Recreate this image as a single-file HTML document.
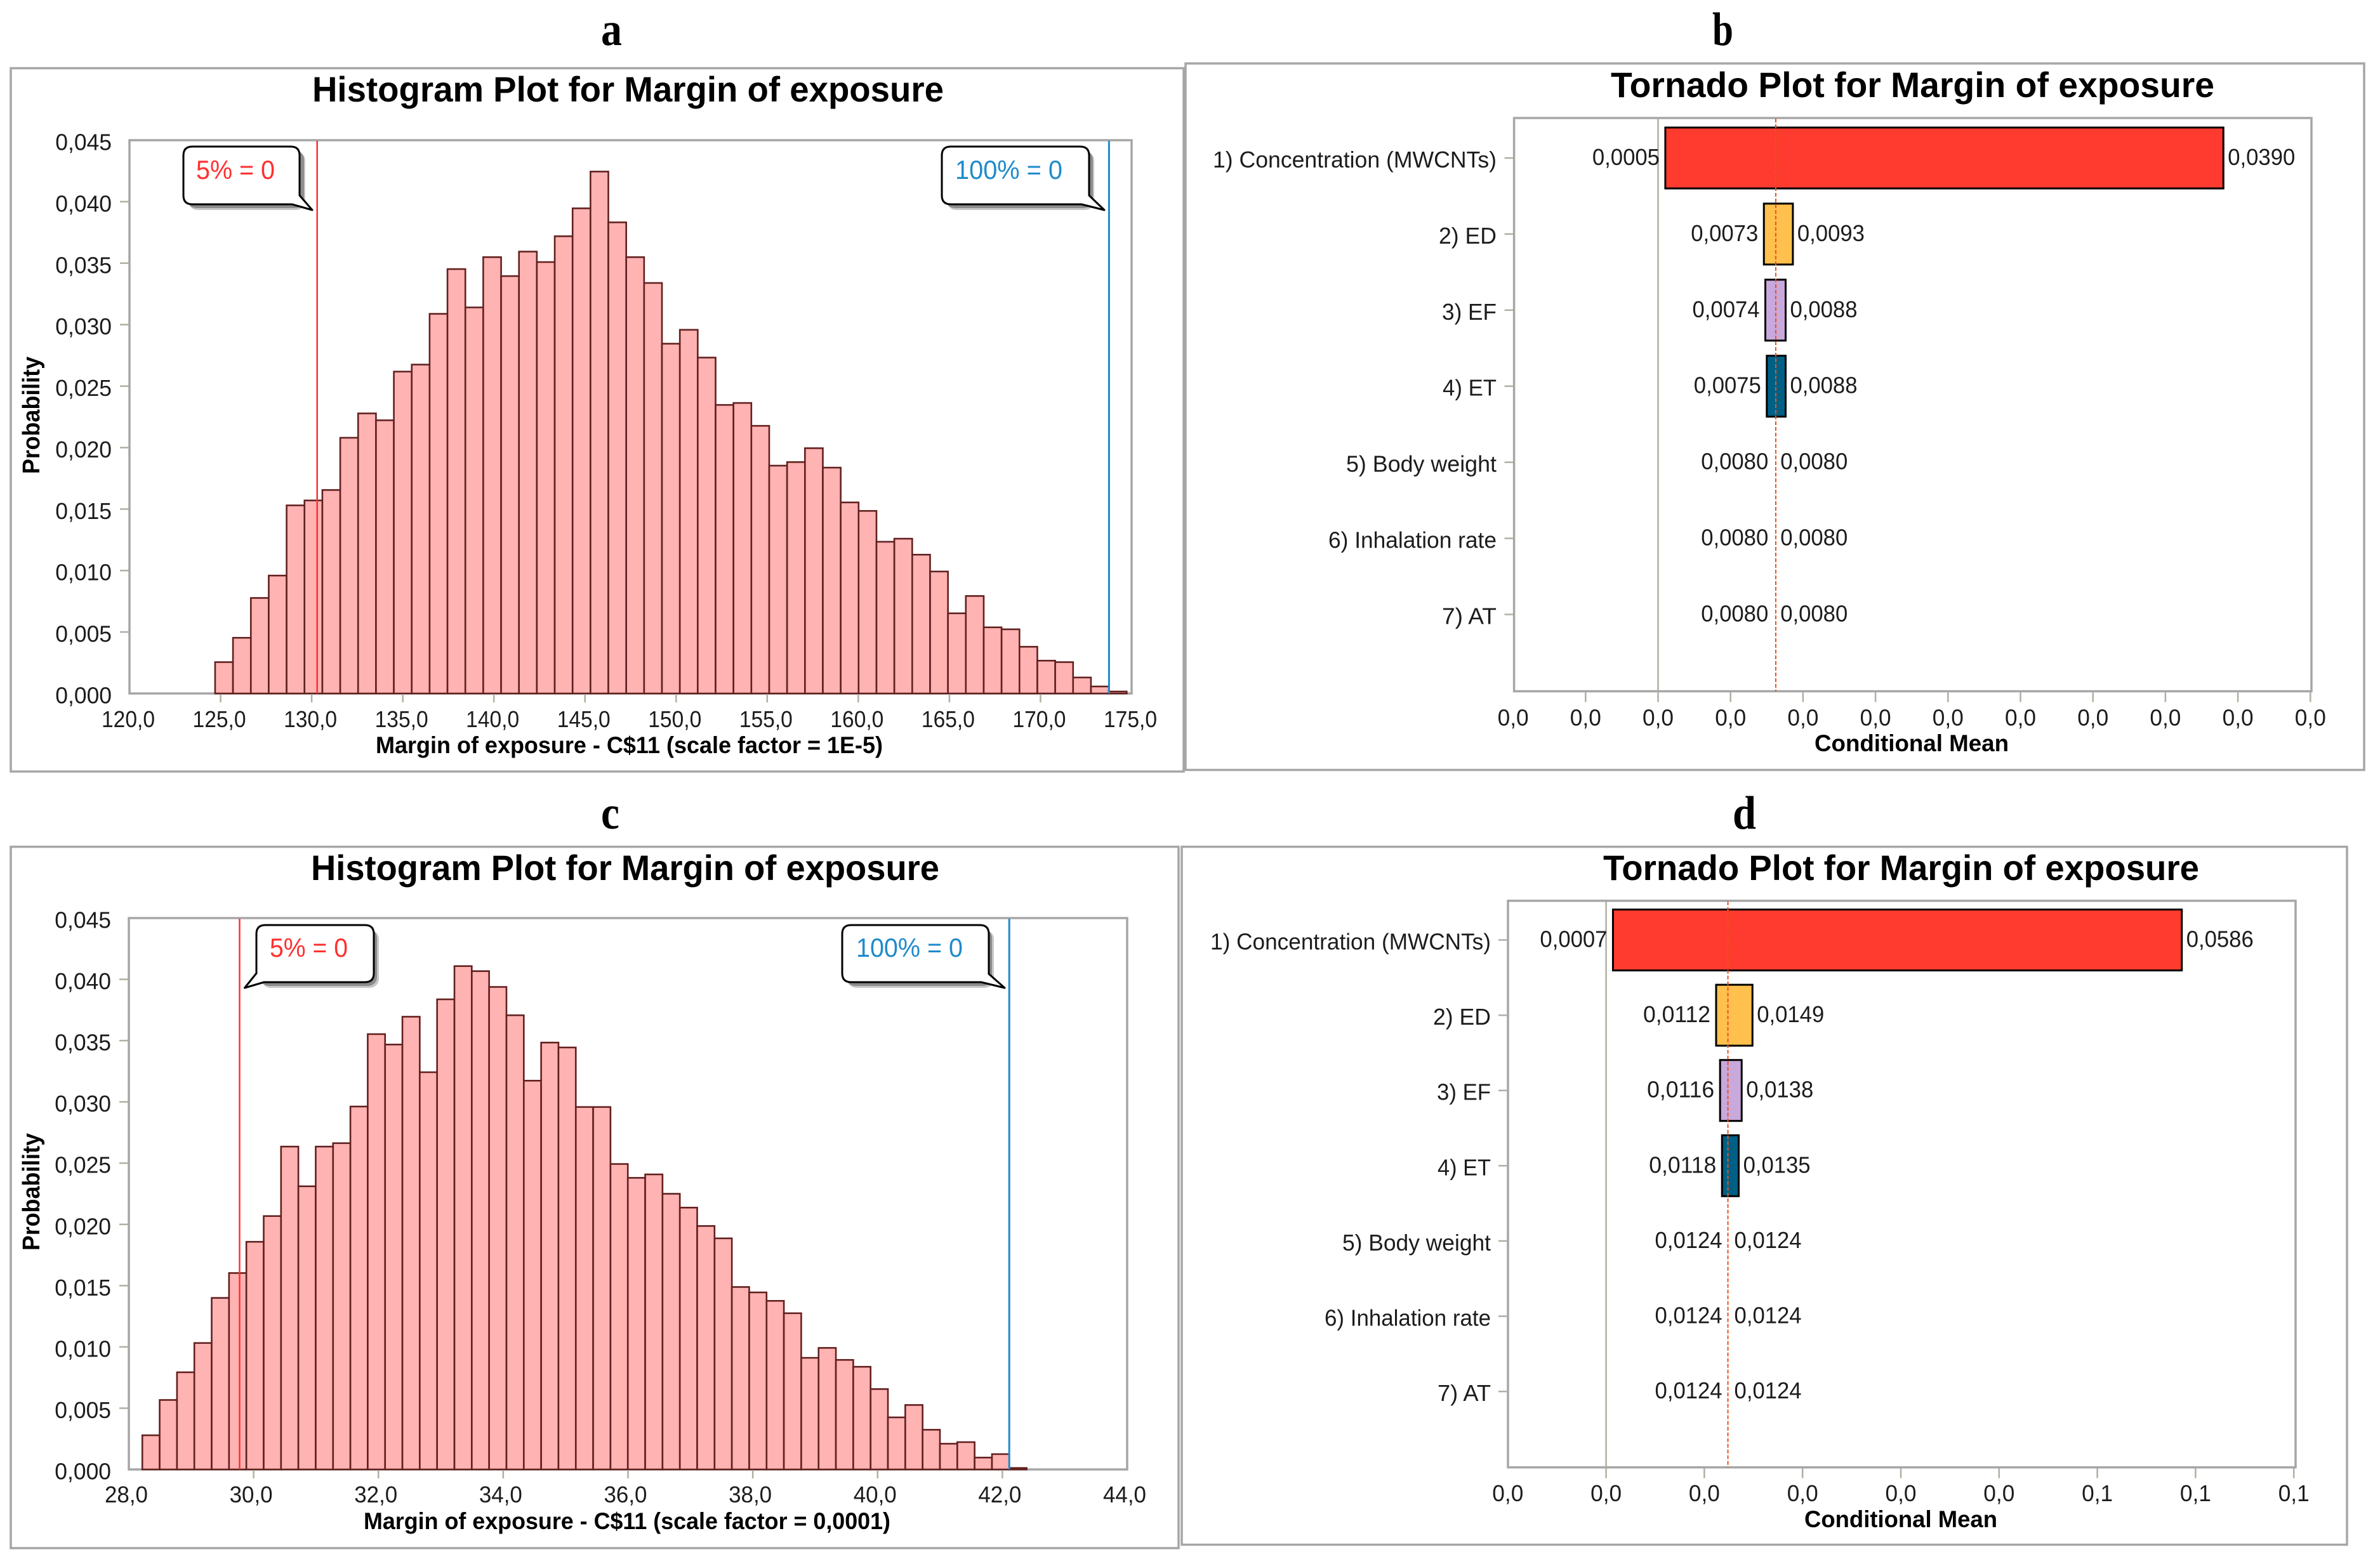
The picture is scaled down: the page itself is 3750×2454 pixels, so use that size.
<!DOCTYPE html>
<html lang="en">
<head>
<meta charset="utf-8">
<title>Histogram and tornado plots for margin of exposure</title>
<style>
html,body{margin:0;padding:0;background:#fff;}
svg{display:block;}
text{font-family:"Liberation Sans",sans-serif;fill:#1c1c1c;}
.letter{font-family:"Liberation Serif",serif;font-weight:700;font-size:74px;fill:#000;}
.title{font-weight:700;font-size:56px;fill:#000;}
.axis-title{font-weight:700;font-size:37px;fill:#000;}
.frame{fill:#fff;stroke:#a6a6a6;stroke-width:3.5;}
.plot{fill:#fff;stroke:#a6a6a6;stroke-width:3.5;}
.callout-shadow{fill:#8c8c8c;}
.callout-shadow-soft{fill:#c8c8c8;}
.callout-body{fill:#fff;stroke:#000;stroke-width:3;stroke-linejoin:round;}
.callout-text{font-size:42px;}
</style>
</head>
<body>
<svg id="figure" xmlns="http://www.w3.org/2000/svg" width="3750" height="2454" viewBox="0 0 3750 2454">
  <rect x="0" y="0" width="3750" height="2454" fill="#fff"/>

  <text class="letter" x="947" y="71" textLength="33" lengthAdjust="spacingAndGlyphs">a</text>
  <text class="letter" x="2698" y="71" textLength="33" lengthAdjust="spacingAndGlyphs">b</text>
  <text class="letter" x="947" y="1306" textLength="29" lengthAdjust="spacingAndGlyphs">c</text>
  <text class="letter" x="2730" y="1306" textLength="37" lengthAdjust="spacingAndGlyphs">d</text>

  <g id="panel-a">
    <rect class="frame" x="17" y="107.5" width="1848" height="1108.5"/>
    <text class="title" x="492" y="160" textLength="995" lengthAdjust="spacingAndGlyphs">Histogram Plot for Margin of exposure</text>
    <rect class="plot" x="204" y="221" width="1579" height="872"/>
    <text class="axis-title" x="592" y="1187" textLength="799" lengthAdjust="spacingAndGlyphs">Margin of exposure - C$11 (scale factor = 1E-5)</text>
    <text class="axis-title" transform="translate(62,747) rotate(-90)" x="0" y="0" style="font-size:38px" textLength="185" lengthAdjust="spacingAndGlyphs">Probability</text>
    <g id="panel-a-marks"></g>
    <g>
      <rect class="callout-shadow-soft" x="297" y="239" width="184" height="92" rx="14"/>
      <rect class="callout-shadow" x="295" y="237" width="184" height="91" rx="14"/>
      <path class="callout-body" d="M303 231H458Q472 231 472 245V308L492 331L460 322H303Q289 322 289 308V245Q289 231 303 231Z"/>
      <text class="callout-text" x="309" y="282" style="fill:#ff3030" textLength="124" lengthAdjust="spacingAndGlyphs">5% = 0</text>
    </g>
    <g>
      <rect class="callout-shadow-soft" x="1492" y="239" width="232" height="92" rx="14"/>
      <rect class="callout-shadow" x="1490" y="237" width="232" height="91" rx="14"/>
      <path class="callout-body" d="M1498 231H1702Q1716 231 1716 245V308L1740 331L1704 322H1498Q1484 322 1484 308V245Q1484 231 1498 231Z"/>
      <text class="callout-text" x="1505" y="282" style="fill:#1e8bcb" textLength="169" lengthAdjust="spacingAndGlyphs">100% = 0</text>
    </g>
  </g>

  <g id="panel-b">
    <rect class="frame" x="1868" y="100" width="1857" height="1113.5"/>
    <text class="title" x="2538" y="153" textLength="951" lengthAdjust="spacingAndGlyphs">Tornado Plot for Margin of exposure</text>
    <rect class="plot" x="2385.6" y="186" width="1256.4" height="903.5"/>
    <text class="axis-title" x="2859" y="1184" textLength="306" lengthAdjust="spacingAndGlyphs">Conditional Mean</text>
    <g id="panel-b-marks"></g>
  </g>

  <g id="panel-c">
    <rect class="frame" x="17" y="1334.6" width="1840" height="1105.4"/>
    <text class="title" x="490" y="1387" textLength="990" lengthAdjust="spacingAndGlyphs">Histogram Plot for Margin of exposure</text>
    <rect class="plot" x="203" y="1447" width="1573" height="869"/>
    <text class="axis-title" x="573" y="2410" textLength="830" lengthAdjust="spacingAndGlyphs">Margin of exposure - C$11 (scale factor = 0,0001)</text>
    <text class="axis-title" transform="translate(62,1971) rotate(-90)" x="0" y="0" style="font-size:38px" textLength="185" lengthAdjust="spacingAndGlyphs">Probability</text>
    <g id="panel-c-marks"></g>
    <g>
      <rect class="callout-shadow-soft" x="412" y="1466" width="185" height="91" rx="14"/>
      <rect class="callout-shadow" x="410" y="1464" width="184" height="90" rx="14"/>
      <path class="callout-body" d="M418 1458H575Q589 1458 589 1472V1534Q589 1548 575 1548H416L385.5 1557L404 1534V1472Q404 1458 418 1458Z"/>
      <text class="callout-text" x="425" y="1508" style="fill:#ff3030" textLength="123" lengthAdjust="spacingAndGlyphs">5% = 0</text>
    </g>
    <g>
      <rect class="callout-shadow-soft" x="1335" y="1466" width="231" height="91" rx="14"/>
      <rect class="callout-shadow" x="1333" y="1464" width="230" height="90" rx="14"/>
      <path class="callout-body" d="M1341 1458H1544Q1558 1458 1558 1472V1535L1583 1557L1546 1548H1341Q1327 1548 1327 1534V1472Q1327 1458 1341 1458Z"/>
      <text class="callout-text" x="1349" y="1508" style="fill:#1e8bcb" textLength="168" lengthAdjust="spacingAndGlyphs">100% = 0</text>
    </g>
  </g>

  <g id="panel-d">
    <rect class="frame" x="1862" y="1334.6" width="1836" height="1100"/>
    <text class="title" x="2526" y="1387" textLength="939" lengthAdjust="spacingAndGlyphs">Tornado Plot for Margin of exposure</text>
    <rect class="plot" x="2376" y="1419.7" width="1241" height="893"/>
    <text class="axis-title" x="2843" y="2407" textLength="304" lengthAdjust="spacingAndGlyphs">Conditional Mean</text>
    <g id="panel-d-marks"></g>
  </g>
</svg>

<script>
// ---- Shared probability axis ----
const probabilityTicks = [0, 0.005, 0.01, 0.015, 0.02, 0.025, 0.03, 0.035, 0.04, 0.045];
const probabilityTickLabels = ["0,000", "0,005", "0,010", "0,015", "0,020", "0,025", "0,030", "0,035", "0,040", "0,045"];

// ---- Panel a: histogram ----
const histABinStart = 124.7;
const histABinWidth = 0.981;
const histAValues = [0.00255, 0.00453, 0.00777, 0.00959, 0.0153, 0.0157, 0.01655, 0.0208, 0.02278, 0.02222, 0.02618, 0.02675, 0.03088, 0.03452, 0.0314, 0.03549, 0.03395, 0.03594, 0.03509, 0.03719, 0.03946, 0.04245, 0.03832, 0.03549, 0.03339, 0.02845, 0.02958, 0.02732, 0.02347, 0.02363, 0.02177, 0.01853, 0.01882, 0.01995, 0.01837, 0.01554, 0.01485, 0.01234, 0.01259, 0.01129, 0.00992, 0.00652, 0.00793, 0.00538, 0.00522, 0.0038, 0.00267, 0.00255, 0.0013, 0.00057, 0.00016];
const histAXTicks = [120, 125, 130, 135, 140, 145, 150, 155, 160, 165, 170, 175];
const histAXTickLabels = ["120,0", "125,0", "130,0", "135,0", "140,0", "145,0", "150,0", "155,0", "160,0", "165,0", "170,0", "175,0"];
const histAPercentile5 = 130.3;
const histAPercentile100 = 173.76;

// ---- Panel c: histogram ----
const histCBinStart = 28.216;
const histCBinWidth = 0.2779;
const histCValues = [0.00279, 0.00567, 0.00793, 0.01032, 0.014, 0.01603, 0.01858, 0.02068, 0.02635, 0.02311, 0.02635, 0.02663, 0.02962, 0.03553, 0.03468, 0.03695, 0.03242, 0.03837, 0.04108, 0.04067, 0.03938, 0.03707, 0.03173, 0.03484, 0.03444, 0.02958, 0.02958, 0.02493, 0.0238, 0.02408, 0.0225, 0.02137, 0.01987, 0.01886, 0.01489, 0.01445, 0.01376, 0.01275, 0.00911, 0.00992, 0.00894, 0.00838, 0.00656, 0.00425, 0.00526, 0.00324, 0.0021, 0.00223, 0.00097, 0.00125, 0.00012];
const histCXTicks = [28, 30, 32, 34, 36, 38, 40, 42, 44];
const histCXTickLabels = ["28,0", "30,0", "32,0", "34,0", "36,0", "38,0", "40,0", "42,0", "44,0"];
const histCPercentile5 = 29.775;
const histCPercentile100 = 42.11;

// ---- Tornado plots ----
const tornadoCategories = ["1) Concentration (MWCNTs)", "2) ED", "3) EF", "4) ET", "5) Body weight", "6) Inhalation rate", "7) AT"];
const tornadoColors = ["#ff3a2f", "#ffc04d", "#c9a8db", "#005f85", "#cccccc", "#cccccc", "#cccccc"];

const tornadoBLow = [0.0005, 0.0073, 0.0074, 0.0075, 0.008, 0.008, 0.008];
const tornadoBHigh = [0.039, 0.0093, 0.0088, 0.0088, 0.008, 0.008, 0.008];
const tornadoBMean = 0.00812;
const tornadoBTicks = [-0.01, -0.005, 0, 0.005, 0.01, 0.015, 0.02, 0.025, 0.03, 0.035, 0.04, 0.045];
const tornadoBTickLabels = ["0,0", "0,0", "0,0", "0,0", "0,0", "0,0", "0,0", "0,0", "0,0", "0,0", "0,0", "0,0"];

const tornadoDLow = [0.0007, 0.0112, 0.0116, 0.0118, 0.0124, 0.0124, 0.0124];
const tornadoDHigh = [0.0586, 0.0149, 0.0138, 0.0135, 0.0124, 0.0124, 0.0124];
const tornadoDMean = 0.0124;
const tornadoDTicks = [-0.01, 0, 0.01, 0.02, 0.03, 0.04, 0.05, 0.06, 0.07];
const tornadoDTickLabels = ["0,0", "0,0", "0,0", "0,0", "0,0", "0,0", "0,1", "0,1", "0,1"];

const SVG_NS = "http://www.w3.org/2000/svg";
const TICK_COLOR = "#b3aea2";

function make(parent, tag, attrs) {
  const el = document.createElementNS(SVG_NS, tag);
  for (const k in attrs) el.setAttribute(k, attrs[k]);
  parent.appendChild(el);
  return el;
}

function makeText(parent, str, x, y, anchor, width, size) {
  const el = make(parent, "text", {
    x: x, y: y, "text-anchor": anchor, "font-size": size,
    textLength: width, lengthAdjust: "spacingAndGlyphs"
  });
  el.textContent = str;
  return el;
}

function linear(d0, d1, r0, r1) {
  return function (v) { return r0 + (v - d0) * (r1 - r0) / (d1 - d0); };
}

function formatValue(v) {
  return v.toFixed(4).replace(".", ",");
}

function drawHistogram(opts) {
  const g = document.getElementById(opts.group);
  const x = linear(opts.xMin, opts.xMax, opts.left, opts.right);
  const y = linear(0, 0.045, opts.bottom, opts.top);

  opts.values.forEach(function (v, i) {
    const x0 = x(opts.binStart + i * opts.binWidth);
    const x1 = x(opts.binStart + (i + 1) * opts.binWidth);
    const bar = make(g, "rect", {
      x: x0, y: y(v), width: x1 - x0, height: opts.bottom - y(v),
      fill: "#ffb3b3", stroke: "#62201f", "stroke-width": 2.6
    });
    
    
  });

  probabilityTicks.forEach(function (t, i) {
    if (i > 0 && i < probabilityTicks.length - 1) {
      const mark = make(g, "line", {
        x1: opts.left - 15, x2: opts.left - 1, y1: y(t), y2: y(t),
        stroke: TICK_COLOR, "stroke-width": 2.5
      });
      
      
    }
    const label = makeText(g, probabilityTickLabels[i], opts.yLabelRight, y(t) + 15.5, "end", 88.7, 36);
    
    
  });

  opts.xTicks.forEach(function (t, i) {
    if (i > 0 && i < opts.xTicks.length - 1) {
      const mark = make(g, "line", {
        x1: x(t), x2: x(t), y1: opts.bottom + 1, y2: opts.bottom + 14,
        stroke: TICK_COLOR, "stroke-width": 2.5
      });
      
      
    }
    const label = makeText(g, opts.xTickLabels[i], x(t) + opts.labelShift, opts.xLabelY, "middle", opts.xLabelWidth, 36);
    
    
  });

  const red = make(g, "line", {
    x1: x(opts.p5), x2: x(opts.p5), y1: opts.top + 1, y2: opts.bottom,
    stroke: "#ff3030", "stroke-width": 2.5
  });
  
  

  const blue = make(g, "line", {
    x1: x(opts.p100), x2: x(opts.p100), y1: opts.top + 1, y2: opts.bottom,
    stroke: "#1e8bcb", "stroke-width": 3
  });
  
  
}

function drawTornado(opts) {
  const g = document.getElementById(opts.group);
  const x = function (v) { return opts.zeroX + v * opts.pxPerUnit; };
  const rowY = function (i) { return opts.firstRow + i * opts.rowStep; };

  const zero = make(g, "line", {
    x1: x(0), x2: x(0), y1: opts.top + 1, y2: opts.bottom,
    stroke: "#b3aea2", "stroke-width": 2.5
  });
  
  

  tornadoCategories.forEach(function (name, i) {
    const y = rowY(i);
    const tick = make(g, "line", {
      x1: opts.left - 15, x2: opts.left - 1, y1: y, y2: y,
      stroke: TICK_COLOR, "stroke-width": 2.5
    });
    
    

    const cat = makeText(g, name, opts.categoryRight, y + 15, "end", opts.categoryWidths[i], 36);
    
    

    const lo = opts.low[i];
    const hi = opts.high[i];
    const bar = make(g, "rect", {
      x: x(lo), y: y - 48, width: x(hi) - x(lo), height: 96,
      fill: tornadoColors[i], stroke: "#000", "stroke-width": 3
    });
    
    

    const lowLabel = makeText(g, formatValue(lo), x(lo) - 9, y + 11, "end", 106, 36);
    
    

    const highLabel = makeText(g, formatValue(hi), x(hi) + (hi === lo ? 10 : 7), y + 11, "start", 106, 36);
    
    
  });

  const mean = make(g, "line", {
    x1: x(opts.mean), x2: x(opts.mean), y1: opts.top + 1, y2: opts.bottom,
    stroke: "#e8541e", "stroke-width": 2, "stroke-dasharray": "6 3"
  });
  
  

  opts.ticks.forEach(function (t, i) {
    if (i > 0) {
      const mark = make(g, "line", {
        x1: x(t), x2: x(t), y1: opts.bottom + 1, y2: opts.bottom + 17,
        stroke: TICK_COLOR, "stroke-width": 2.5
      });
      
      
    }
    const label = makeText(g, opts.tickLabels[i], x(t), opts.xLabelY, "middle", 49, 36);
    
    
  });
}

drawHistogram({
  group: "panel-a-marks", left: 204, right: 1783, top: 221, bottom: 1093,
  xMin: 120, xMax: 175, values: histAValues,
  binStart: histABinStart, binWidth: histABinWidth,
  xTicks: histAXTicks, xTickLabels: histAXTickLabels,
  p5: histAPercentile5, p100: histAPercentile100,
  yLabelRight: 176, xLabelY: 1146, xLabelWidth: 84, labelShift: -2
});

drawHistogram({
  group: "panel-c-marks", left: 203, right: 1776, top: 1447, bottom: 2316,
  xMin: 28, xMax: 44, values: histCValues,
  binStart: histCBinStart, binWidth: histCBinWidth,
  xTicks: histCXTicks, xTickLabels: histCXTickLabels,
  p5: histCPercentile5, p100: histCPercentile100,
  yLabelRight: 175, xLabelY: 2368, xLabelWidth: 68, labelShift: -4
});

drawTornado({
  group: "panel-b-marks", left: 2385.6, top: 186, bottom: 1089.5,
  zeroX: 2612.5, pxPerUnit: 22840, firstRow: 249, rowStep: 119.9,
  low: tornadoBLow, high: tornadoBHigh, mean: tornadoBMean,
  ticks: tornadoBTicks, tickLabels: tornadoBTickLabels,
  categoryRight: 2358, categoryWidths: [447, 91, 86, 85, 237, 265, 86],
  xLabelY: 1143.7
});

drawTornado({
  group: "panel-d-marks", left: 2376, top: 1419.7, bottom: 2312.7,
  zeroX: 2530.6, pxPerUnit: 15480, firstRow: 1481.5, rowStep: 118.6,
  low: tornadoDLow, high: tornadoDHigh, mean: tornadoDMean,
  ticks: tornadoDTicks, tickLabels: tornadoDTickLabels,
  categoryRight: 2349, categoryWidths: [442, 91, 85, 84, 234, 262, 84],
  xLabelY: 2366
});
</script>
</body>
</html>
